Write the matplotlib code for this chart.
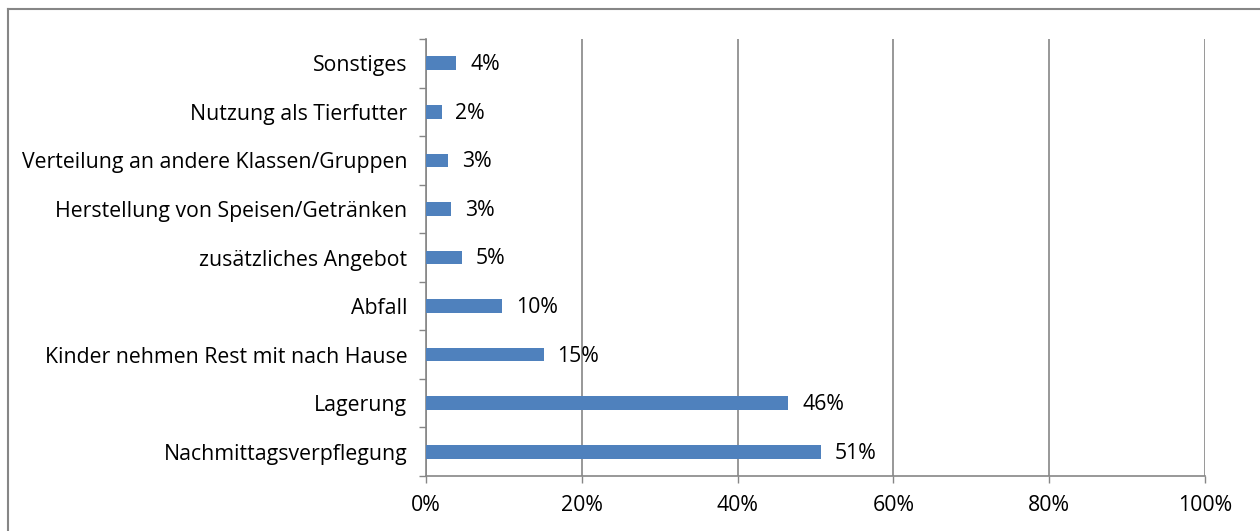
import numpy as np
import matplotlib.pyplot as plt
from matplotlib.lines import Line2D

# Data (bottom to top)
categories = [
    "Nachmittagsverpflegung",
    "Lagerung",
    "Kinder nehmen Rest mit nach Hause",
    "Abfall",
    "zusätzliches Angebot",
    "Herstellung von Speisen/Getränken",
    "Verteilung an andere Klassen/Gruppen",
    "Nutzung als Tierfutter",
    "Sonstiges",
]
values = [0.507, 0.465, 0.151, 0.098, 0.046, 0.032, 0.028, 0.020, 0.039]
value_labels = ["51%", "46%", "15%", "10%", "5%", "3%", "3%", "2%", "4%"]
x_ticks = [0, 0.2, 0.4, 0.6, 0.8, 1.0]
x_tick_labels = ["0%", "20%", "40%", "60%", "80%", "100%"]

plt.rcParams['font.family'] = ['Open Sans', 'DejaVu Sans']
axis_grey = '#868686'
bar_blue = '#4F81BD'
fs = 15.3

fig = plt.figure(figsize=(12.6, 5.31), dpi=100)
ax = fig.add_axes([426 / 1260, 1 - 476 / 531, (1205 - 426) / 1260, (476 - 39) / 531])

y = np.arange(len(categories))
ax.barh(y, values, height=0.28, color=bar_blue, zorder=3)

for yi, v, lab in zip(y, values, value_labels):
    ax.annotate(lab, (v, yi), xytext=(10, -1), textcoords='offset points',
                va='center', ha='left', fontsize=fs, color='black')

ax.set_xlim(0, 1)
ax.set_ylim(-0.5, len(categories) - 0.5)

ax.set_xticks(x_ticks)
ax.set_xticklabels(x_tick_labels, fontsize=fs)
ax.tick_params(axis='x', direction='out', length=5, width=1, color=axis_grey, pad=9)

# category boundaries get tick marks, labels sit in between
ax.set_yticks(np.arange(-0.5, len(categories), 1.0))
ax.set_yticklabels([])
ax.set_yticks(y, minor=True)
ax.set_yticklabels(categories, minor=True, fontsize=fs)
ax.tick_params(axis='y', which='major', direction='out', length=5, width=1, color=axis_grey)
ax.tick_params(axis='y', which='minor', length=0, pad=13.5)

ax.grid(axis='x', color=axis_grey, linewidth=1.2, zorder=0)
for side in ['top', 'right']:
    ax.spines[side].set_visible(False)
for side in ['left', 'bottom']:
    ax.spines[side].set_color(axis_grey)
    ax.spines[side].set_linewidth(1.2)

# outer chart border (only left and top are inside the picture)
fig.add_artist(Line2D([7.5 / 1260, 7.5 / 1260], [0, 1 - 9 / 531], transform=fig.transFigure,
                      color=axis_grey, linewidth=1.5))
fig.add_artist(Line2D([7.5 / 1260, 1], [1 - 9 / 531, 1 - 9 / 531], transform=fig.transFigure,
                      color=axis_grey, linewidth=1.5))

fig.savefig('out.png', dpi=100)
